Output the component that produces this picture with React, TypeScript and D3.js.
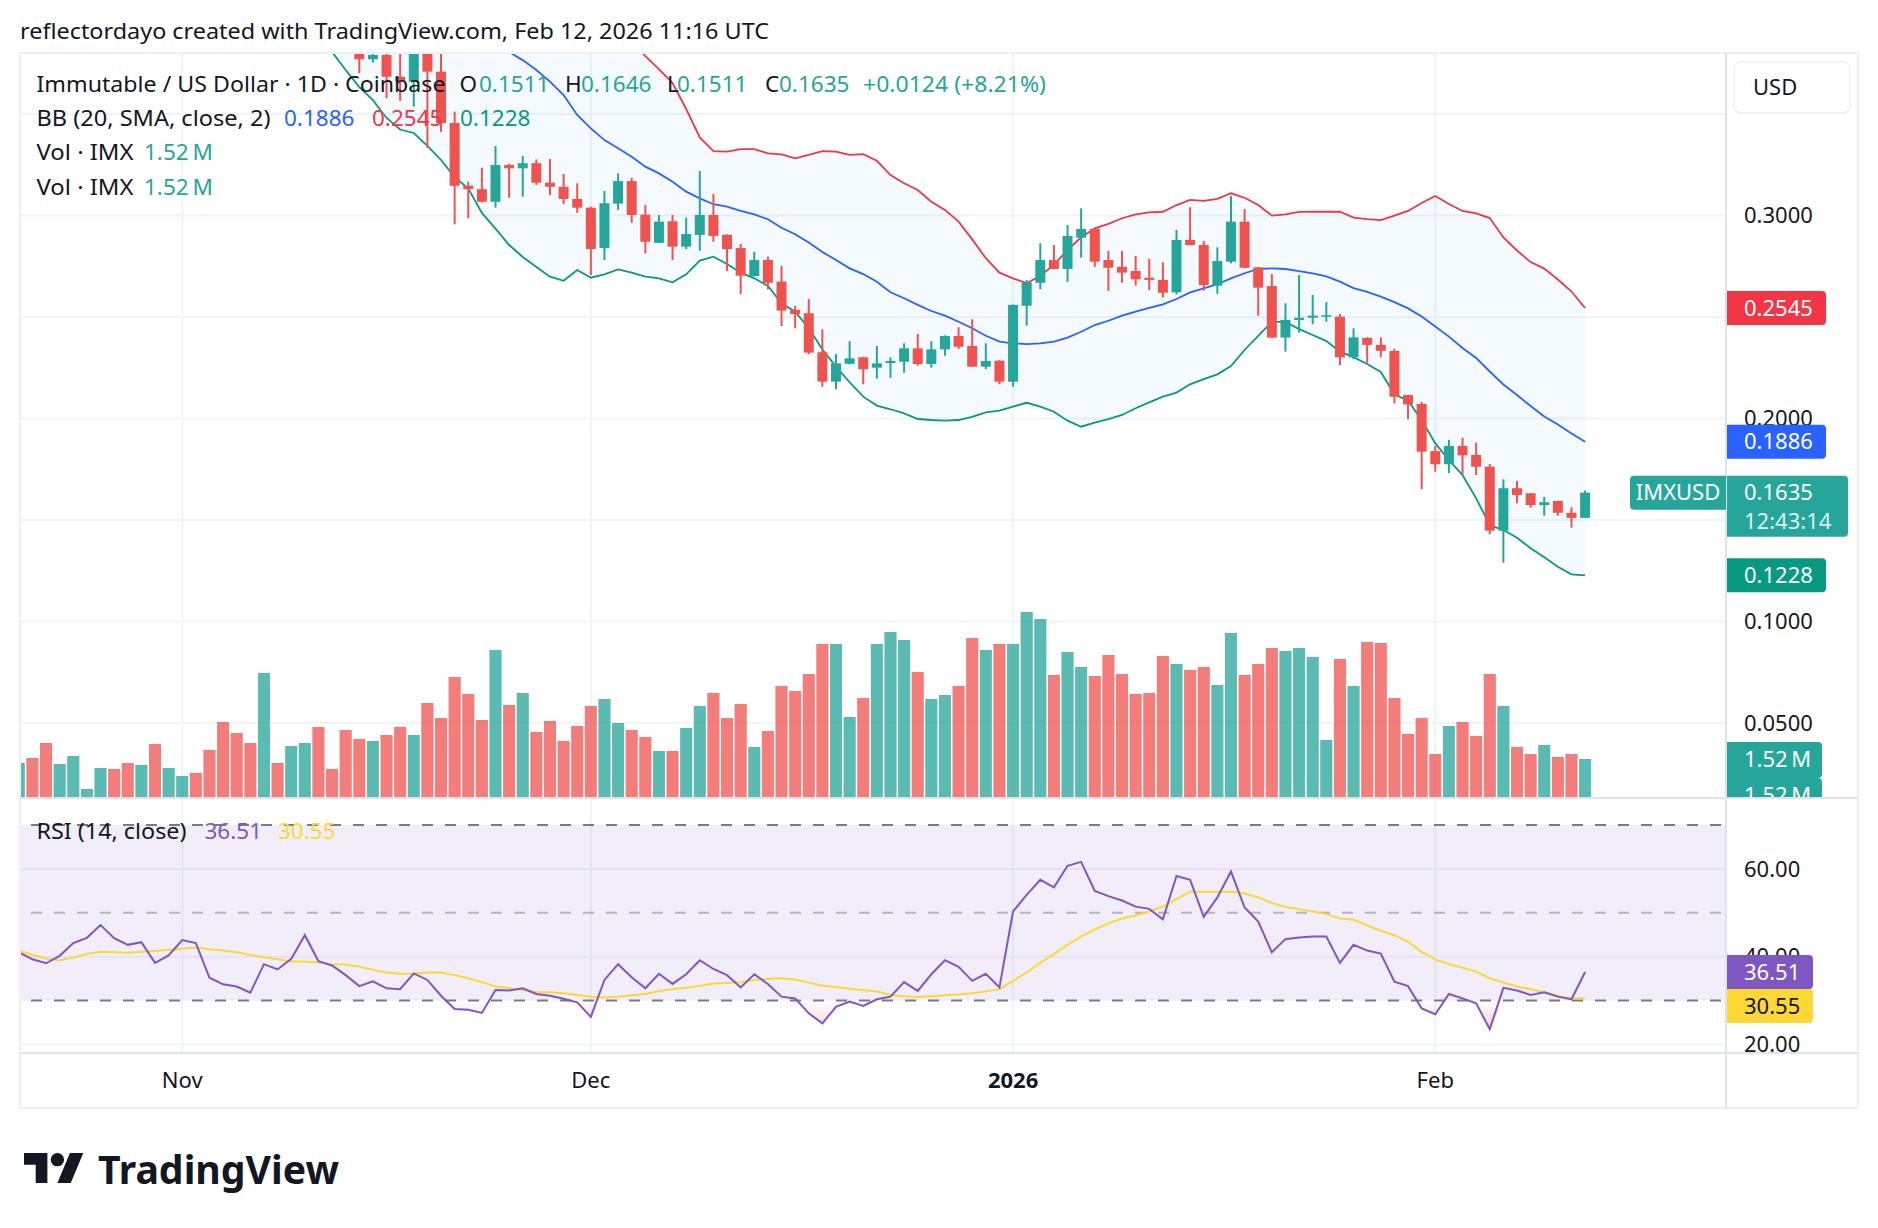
import * as d3 from 'd3';
import { useMemo } from 'react';

// IMX/USD daily, Coinbase — first bar is Oct 20, 2025
const firstDay = Date.UTC(2025, 9, 20);
const DAY = 86400000;

const opens = [
  0.476, 0.486, 0.478, 0.468, 0.474, 0.486, 0.492, 0.508, 0.496, 0.488,
  0.492, 0.470, 0.478, 0.494, 0.490, 0.458, 0.445, 0.438, 0.425, 0.448,
  0.438, 0.447, 0.468, 0.430, 0.415, 0.398, 0.3770, 0.3791, 0.3684, 0.3660,
  0.3860, 0.3709, 0.3456, 0.3147, 0.3130, 0.3068, 0.3249, 0.3233, 0.3258, 0.3162,
  0.3142, 0.3082, 0.3039, 0.2840, 0.3059, 0.3170, 0.3005, 0.2866, 0.2972, 0.2847,
  0.2905, 0.3003, 0.2905, 0.2840, 0.2702, 0.2781, 0.2675, 0.2536, 0.2519, 0.2327,
  0.2182, 0.2270, 0.2302, 0.2251, 0.2274, 0.2280, 0.2346, 0.2269, 0.2341, 0.2407,
  0.2358, 0.2256, 0.2285, 0.2182, 0.2556, 0.2669, 0.2781, 0.2737, 0.2891, 0.2934,
  0.2781, 0.2748, 0.2727, 0.2694, 0.2683, 0.2622, 0.2880, 0.2855, 0.2655, 0.2773,
  0.2970, 0.2745, 0.2653, 0.2399, 0.2486, 0.2497, 0.2507, 0.2502, 0.2302, 0.2398,
  0.2363, 0.2333, 0.2116, 0.2072, 0.1840, 0.1775, 0.1865, 0.1821, 0.1763, 0.1448,
  0.1657, 0.1632, 0.1574, 0.1594, 0.1536, 0.1511,
];
const highs = [
  0.492, 0.495, 0.484, 0.480, 0.490, 0.496, 0.515, 0.512, 0.501, 0.498,
  0.495, 0.482, 0.499, 0.502, 0.492, 0.463, 0.451, 0.442, 0.455, 0.452,
  0.452, 0.476, 0.471, 0.436, 0.420, 0.402, 0.3835, 0.3850, 0.3880, 0.3930,
  0.3900, 0.3840, 0.3512, 0.3167, 0.3236, 0.3343, 0.3256, 0.3294, 0.3277, 0.3279,
  0.3205, 0.3159, 0.3044, 0.3121, 0.3208, 0.3187, 0.3052, 0.3003, 0.3003, 0.2990,
  0.3220, 0.3106, 0.2908, 0.2860, 0.2822, 0.2798, 0.2752, 0.2555, 0.2589, 0.2440,
  0.2318, 0.2382, 0.2305, 0.2358, 0.2302, 0.2371, 0.2417, 0.2382, 0.2410, 0.2450,
  0.2489, 0.2371, 0.2288, 0.2563, 0.2683, 0.2864, 0.2855, 0.2954, 0.3036, 0.2936,
  0.2826, 0.2826, 0.2801, 0.2786, 0.2770, 0.2929, 0.3041, 0.2875, 0.2844, 0.3097,
  0.3033, 0.2747, 0.2712, 0.2568, 0.2707, 0.2609, 0.2574, 0.2515, 0.2445, 0.2400,
  0.2400, 0.2343, 0.2117, 0.2083, 0.1865, 0.1895, 0.1906, 0.1881, 0.1776, 0.1701,
  0.1693, 0.1633, 0.1615, 0.1595, 0.1563, 0.1646,
];
const lows = [
  0.470, 0.474, 0.462, 0.463, 0.470, 0.482, 0.488, 0.492, 0.483, 0.484,
  0.462, 0.466, 0.475, 0.485, 0.452, 0.440, 0.433, 0.418, 0.420, 0.432,
  0.434, 0.443, 0.425, 0.410, 0.392, 0.3702, 0.3753, 0.3578, 0.3565, 0.3537,
  0.3333, 0.3413, 0.2957, 0.2987, 0.3065, 0.3039, 0.3088, 0.3093, 0.3151, 0.3101,
  0.3056, 0.3014, 0.2707, 0.2781, 0.3028, 0.2965, 0.2814, 0.2864, 0.2781, 0.2835,
  0.2827, 0.2871, 0.2727, 0.2614, 0.2700, 0.2637, 0.2456, 0.2445, 0.2317, 0.2157,
  0.2144, 0.2267, 0.2169, 0.2197, 0.2201, 0.2226, 0.2261, 0.2251, 0.2310, 0.2343,
  0.2255, 0.2244, 0.2169, 0.2157, 0.2458, 0.2637, 0.2736, 0.2674, 0.2793, 0.2748,
  0.2629, 0.2669, 0.2655, 0.2633, 0.2596, 0.2612, 0.2853, 0.2630, 0.2614, 0.2765,
  0.2742, 0.2507, 0.2398, 0.2330, 0.2424, 0.2465, 0.2477, 0.2264, 0.2292, 0.2275,
  0.2302, 0.2075, 0.1997, 0.1652, 0.1738, 0.1731, 0.1726, 0.1722, 0.1430, 0.1290,
  0.1583, 0.1561, 0.1522, 0.1522, 0.1463, 0.1511,
];
const closes = [
  0.486, 0.478, 0.468, 0.474, 0.486, 0.492, 0.508, 0.496, 0.488, 0.492,
  0.470, 0.478, 0.494, 0.490, 0.458, 0.445, 0.438, 0.425, 0.448, 0.438,
  0.447, 0.468, 0.430, 0.415, 0.398, 0.3770, 0.3791, 0.3684, 0.3661, 0.3860,
  0.3709, 0.3456, 0.3147, 0.3130, 0.3068, 0.3249, 0.3233, 0.3258, 0.3162, 0.3142,
  0.3082, 0.3039, 0.2835, 0.3061, 0.3170, 0.3003, 0.2871, 0.2970, 0.2847, 0.2909,
  0.3003, 0.2900, 0.2835, 0.2704, 0.2781, 0.2669, 0.2532, 0.2515, 0.2325, 0.2182,
  0.2272, 0.2297, 0.2243, 0.2272, 0.2284, 0.2346, 0.2269, 0.2341, 0.2407, 0.2354,
  0.2256, 0.2284, 0.2182, 0.2560, 0.2671, 0.2781, 0.2737, 0.2900, 0.2934, 0.2773,
  0.2743, 0.2719, 0.2686, 0.2683, 0.2620, 0.2880, 0.2855, 0.2658, 0.2776, 0.2970,
  0.2743, 0.2645, 0.2399, 0.2486, 0.2497, 0.2507, 0.2509, 0.2302, 0.2400, 0.2363,
  0.2334, 0.2108, 0.2070, 0.1837, 0.1775, 0.1865, 0.1819, 0.1763, 0.1448, 0.1657,
  0.1624, 0.1574, 0.1588, 0.1536, 0.1511, 0.1635,
];
// volume in millions of IMX
const volumes = [
  1.36, 1.56, 2.16, 1.32, 1.64, 0.32, 1.16, 1.12, 1.36, 1.28,
  2.12, 1.16, 0.84, 0.96, 1.88, 3.0, 2.56, 2.16, 4.96, 1.36,
  2.04, 2.16, 2.8, 1.12, 2.68, 2.32, 2.24, 2.48, 2.8, 2.48,
  3.76, 3.16, 4.8, 4.12, 3.08, 5.88, 3.68, 4.16, 2.6, 3.04,
  2.24, 2.84, 3.64, 3.92, 2.96, 2.68, 2.4, 1.84, 1.84, 2.76,
  3.64, 4.16, 3.16, 3.72, 2.0, 2.64, 4.44, 4.24, 4.92, 6.12,
  6.12, 3.2, 3.96, 6.12, 6.6, 6.28, 5.0, 3.92, 4.08, 4.44,
  6.36, 5.88, 6.12, 6.12, 7.4, 7.12, 4.88, 5.8, 5.2, 4.84,
  5.68, 4.92, 4.12, 4.16, 5.64, 5.32, 5.08, 5.2, 4.48, 6.56,
  4.88, 5.32, 5.96, 5.84, 5.96, 5.6, 2.28, 5.52, 4.44, 6.2,
  6.16, 3.96, 2.52, 3.16, 1.72, 2.84, 3.0, 2.44, 4.92, 3.64,
  2.0, 1.72, 2.08, 1.6, 1.72, 1.52,
];
const bbUpper = [
  0.597, 0.588, 0.582, 0.573, 0.569, 0.559, 0.551, 0.550, 0.539, 0.533,
  0.530, 0.528, 0.521, 0.519, 0.519, 0.519, 0.520, 0.522, 0.523, 0.525,
  0.527, 0.531, 0.533, 0.531, 0.528, 0.525, 0.521, 0.518, 0.512, 0.501,
  0.496, 0.491, 0.485, 0.479, 0.481, 0.478, 0.4757, 0.4736, 0.4687, 0.4621,
  0.4509, 0.4260, 0.4166, 0.4033, 0.3929, 0.3861, 0.3786, 0.3722, 0.3653, 0.3525,
  0.3385, 0.3318, 0.3315, 0.3327, 0.3327, 0.3307, 0.3302, 0.3282, 0.3299, 0.3318,
  0.3315, 0.3299, 0.3303, 0.3270, 0.3200, 0.3159, 0.3126, 0.3068, 0.3028, 0.2970,
  0.2883, 0.2790, 0.2719, 0.2691, 0.2667, 0.2704, 0.2757, 0.2831, 0.2893, 0.2937,
  0.2959, 0.2987, 0.3006, 0.3016, 0.3019, 0.3052, 0.3077, 0.3073, 0.3082, 0.3110,
  0.3088, 0.3052, 0.3000, 0.3006, 0.3018, 0.3019, 0.3019, 0.3019, 0.2990, 0.2983,
  0.2978, 0.3000, 0.3023, 0.3062, 0.3097, 0.3057, 0.3023, 0.3011, 0.2988, 0.2892,
  0.2828, 0.2771, 0.2739, 0.2685, 0.2626, 0.2545,
];
const bbBasis = [
  0.521, 0.518, 0.514, 0.512, 0.509, 0.506, 0.503, 0.501, 0.498, 0.496,
  0.493, 0.491, 0.489, 0.487, 0.484, 0.480, 0.476, 0.473, 0.470, 0.468,
  0.466, 0.464, 0.461, 0.456, 0.450, 0.444, 0.439, 0.433, 0.427, 0.421,
  0.415, 0.409, 0.402, 0.396, 0.391, 0.386, 0.3806, 0.3766, 0.3717, 0.3660,
  0.3594, 0.3496, 0.3430, 0.3372, 0.3332, 0.3290, 0.3241, 0.3208, 0.3167, 0.3118,
  0.3085, 0.3056, 0.3044, 0.3023, 0.3006, 0.2982, 0.2940, 0.2908, 0.2867, 0.2821,
  0.2781, 0.2740, 0.2712, 0.2674, 0.2622, 0.2593, 0.2560, 0.2530, 0.2507, 0.2477,
  0.2445, 0.2408, 0.2379, 0.2371, 0.2367, 0.2371, 0.2379, 0.2399, 0.2428, 0.2461,
  0.2482, 0.2507, 0.2527, 0.2546, 0.2563, 0.2589, 0.2622, 0.2642, 0.2662, 0.2691,
  0.2716, 0.2737, 0.2740, 0.2737, 0.2727, 0.2715, 0.2701, 0.2675, 0.2643, 0.2624,
  0.2601, 0.2574, 0.2543, 0.2503, 0.2454, 0.2404, 0.2348, 0.2299, 0.2232, 0.2168,
  0.2116, 0.2062, 0.2010, 0.1971, 0.1927, 0.1886,
];
const bbLower = [
  0.445, 0.448, 0.446, 0.451, 0.449, 0.453, 0.455, 0.452, 0.457, 0.459,
  0.456, 0.454, 0.457, 0.455, 0.449, 0.441, 0.432, 0.424, 0.417, 0.411,
  0.405, 0.397, 0.389, 0.3806, 0.3717, 0.3633, 0.3569, 0.3481, 0.3424, 0.3407,
  0.3343, 0.3274, 0.3190, 0.3133, 0.3013, 0.2936, 0.2855, 0.2796, 0.2747, 0.2699,
  0.2679, 0.2732, 0.2694, 0.2711, 0.2735, 0.2719, 0.2699, 0.2691, 0.2671, 0.2711,
  0.2778, 0.2798, 0.2762, 0.2719, 0.2691, 0.2653, 0.2568, 0.2527, 0.2446, 0.2340,
  0.2256, 0.2179, 0.2108, 0.2064, 0.2046, 0.2026, 0.1998, 0.1993, 0.1990, 0.1993,
  0.2009, 0.2031, 0.2039, 0.2059, 0.2078, 0.2059, 0.2034, 0.1990, 0.1960, 0.1980,
  0.1997, 0.2018, 0.2051, 0.2080, 0.2108, 0.2128, 0.2169, 0.2194, 0.2218, 0.2259,
  0.2338, 0.2407, 0.2476, 0.2476, 0.2441, 0.2412, 0.2382, 0.2330, 0.2303, 0.2269,
  0.2230, 0.2120, 0.2088, 0.1993, 0.1878, 0.1796, 0.1722, 0.1607, 0.1476, 0.1451,
  0.1413, 0.1361, 0.1317, 0.1270, 0.1233, 0.1228,
];
const rsi = [
  41.0, 39.4, 38.5, 40.2, 43.1, 44.3, 47.2, 44.2, 42.7, 43.3,
  38.6, 40.3, 43.8, 43.1, 35.2, 33.7, 33.2, 31.8, 38.3, 37.1,
  39.5, 44.9, 39.0, 38.0, 35.8, 33.3, 34.4, 32.8, 32.6, 36.2,
  34.7, 31.1, 28.1, 27.9, 27.2, 32.4, 32.3, 32.8, 31.5, 31.1,
  30.4, 29.6, 26.3, 34.7, 38.3, 35.3, 32.8, 36.1, 33.8, 36.0,
  39.2, 37.2, 35.8, 33.0, 36.0, 33.8, 30.9, 30.5, 27.1, 24.8,
  28.6, 29.8, 28.8, 30.3, 30.9, 34.2, 32.2, 36.0, 39.2, 37.7,
  34.5, 36.1, 33.0, 50.3, 54.1, 57.5, 55.8, 60.7, 61.6, 55.0,
  53.8, 52.8, 51.4, 50.9, 48.5, 58.4, 57.5, 49.1, 53.5, 59.4,
  51.2, 48.0, 41.0, 44.0, 44.4, 44.6, 44.6, 38.6, 42.7, 41.4,
  40.7, 34.3, 33.3, 28.2, 26.9, 31.5, 30.5, 29.4, 23.5, 32.9,
  32.3, 31.3, 31.9, 30.9, 30.3, 36.51,
];
const rsiMa = [
  41.4, 40.4, 39.6, 39.2, 39.8, 40.6, 41.1, 41.0, 40.9, 41.1,
  41.3, 41.5, 41.8, 42.1, 41.7, 41.4, 41.0, 40.4, 39.9, 39.4,
  38.9, 38.9, 38.7, 38.3, 38.2, 37.7, 37.0, 36.4, 36.1, 36.2,
  36.4, 36.4, 35.8, 35.1, 34.2, 33.2, 32.8, 32.4, 31.9, 31.9,
  31.7, 31.3, 30.9, 30.7, 30.9, 31.2, 31.5, 32.2, 32.6, 32.9,
  33.4, 33.9, 34.0, 34.2, 34.7, 34.9, 35.1, 34.8, 34.1, 33.4,
  33.1, 32.7, 32.4, 32.1, 31.3, 31.0, 30.8, 31.0, 31.2, 31.4,
  31.7, 32.1, 32.6, 34.5, 36.4, 38.6, 40.6, 42.7, 44.6, 46.2,
  47.6, 48.7, 49.4, 50.3, 51.4, 53.1, 54.8, 54.8, 54.8, 54.8,
  54.4, 53.5, 52.2, 51.4, 50.8, 50.3, 49.7, 48.7, 48.4, 47.1,
  45.9, 44.9, 43.4, 41.1, 39.4, 38.3, 37.5, 36.6, 35.1, 34.1,
  33.2, 32.6, 31.9, 31.1, 30.5, 30.55,
];

const monthTicks = [
  { date: Date.UTC(2025, 10, 1), label: 'Nov', bold: false },
  { date: Date.UTC(2025, 11, 1), label: 'Dec', bold: false },
  { date: Date.UTC(2026, 0, 1), label: '2026', bold: true },
  { date: Date.UTC(2026, 1, 1), label: 'Feb', bold: false },
];
const priceGrid = [0.35, 0.3, 0.25, 0.2, 0.15, 0.1, 0.05];
// 0.1500 sits entirely under the last-price tag, so it is not printed
const priceTicks = [0.3, 0.25, 0.2, 0.1, 0.05];
const rsiGrid = [60, 40, 20];

const FONT = '"Noto Sans", sans-serif';
const TEXT = '#131722';
const UP = '#26a69a';
const DOWN = '#ef5350';

// pane geometry
const L = 20;
const R = 1726;
const AXIS_R = 1858;
const P_TOP = 53;
const P_BOT = 797;
const RSI_BOT = 1053;
const T_BOT = 1108;

// axis tag with a square left edge and rounded right corners
function tagPath(x0: number, y0: number, w: number, h: number, r = 4) {
  return `M${x0},${y0}H${x0 + w - r}Q${x0 + w},${y0} ${x0 + w},${y0 + r}V${y0 + h - r}Q${x0 + w},${y0 + h} ${x0 + w - r},${y0 + h}H${x0}Z`;
}
function tagPathLeft(x0: number, y0: number, w: number, h: number, r = 4) {
  return `M${x0 + w},${y0}H${x0 + r}Q${x0},${y0} ${x0},${y0 + r}V${y0 + h - r}Q${x0},${y0 + h} ${x0 + r},${y0 + h}H${x0 + w}Z`;
}

export default function App() {
  const n = closes.length;
  const dates = useMemo(() => d3.range(n).map(i => firstDay + i * DAY), [n]);

  const x = d3.scaleUtc().domain([firstDay, firstDay + (n - 1) * DAY]).range([18.8, 1585.1]);
  const y = d3.scaleLinear().domain([0.1, 0.3]).range([621.6, 215.6]);
  const yVol = d3.scaleLinear().domain([0, 1.52]).range([P_BOT, 759]);
  const yRsi = d3.scaleLinear().domain([20, 70]).range([1044.5, 825]);

  const bodyW = 10;
  const volW = 12;

  const bandLine = (vals: number[]) =>
    d3.line<number>().x((_, i) => x(dates[i])).y(v => y(v))(vals) ?? '';
  const bandArea = d3.area<number>()
    .x((_, i) => x(dates[i]))
    .y0((_, i) => y(bbLower[i]))
    .y1((_, i) => y(bbUpper[i]))(closes) ?? '';
  const rsiLine = (vals: number[]) =>
    d3.line<number>().x((_, i) => x(dates[i])).y(v => yRsi(v))(vals) ?? '';
  const oversold = d3.area<number>()
    .x((_, i) => x(dates[i]))
    .y0(yRsi(30))
    .y1(v => yRsi(Math.min(v, 30)))(rsi) ?? '';

  const last = n - 1;
  const o = opens[last], h = highs[last], lo = lows[last], c = closes[last];
  const chg = c - closes[last - 1];
  const pct = (chg / closes[last - 1]) * 100;
  const f4 = d3.format('.4f');
  const fVol = (v: number) => `${v.toFixed(2)}\u2009M`;

  const volBars = (opacity: number, key: string) => (
    <g key={key} opacity={opacity}>
      {volumes.map((v, i) => (
        <rect key={i} x={x(dates[i]) - volW / 2} y={yVol(v)} width={volW} height={P_BOT - yVol(v)}
          fill={closes[i] >= opens[i] ? UP : DOWN} />
      ))}
    </g>
  );

  return (
    <svg width={1878} height={1228} style={{ position: 'absolute', left: 0, top: 0, background: '#fff' }}
      fontFamily={FONT}>
      <defs>
        <clipPath id="pricePane"><rect x={L + 1} y={P_TOP + 1} width={R - L - 1} height={P_BOT - P_TOP - 1} /></clipPath>
        <clipPath id="rsiPane"><rect x={L + 1} y={P_BOT + 1} width={R - L - 1} height={RSI_BOT - P_BOT - 1} /></clipPath>
        <clipPath id="priceAxis"><rect x={R} y={P_TOP} width={AXIS_R - R} height={P_BOT - P_TOP} /></clipPath>
        <linearGradient id="oversoldFill" gradientUnits="userSpaceOnUse" x1={0} x2={0} y1={yRsi(30)} y2={yRsi(0)}>
          <stop offset="0" stopColor="#f23645" stopOpacity={0} />
          <stop offset="1" stopColor="#f23645" stopOpacity={1} />
        </linearGradient>
      </defs>

      <rect width={1878} height={1228} fill="#fff" />

      <text x={20} y={38.5} fontSize={22.5} fill={TEXT} textLength={749} lengthAdjust="spacingAndGlyphs">
        reflectordayo created with TradingView.com, Feb 12, 2026 11:16 UTC
      </text>

      {/* grid */}
      <g stroke="#f0f3fa" strokeWidth={2}>
        {priceGrid.map(p => <line key={p} x1={L} x2={R} y1={y(p)} y2={y(p)} />)}
        {rsiGrid.map(r => <line key={r} x1={L} x2={R} y1={yRsi(r)} y2={yRsi(r)} />)}
        {monthTicks.map(t => <line key={t.label} x1={x(t.date)} x2={x(t.date)} y1={P_TOP} y2={RSI_BOT} />)}
      </g>

      {/* price pane */}
      <g clipPath="url(#pricePane)">
        <path d={bandArea} fill="rgba(33,150,243,0.05)" />
        {volBars(0.5, 'v1')}
        {volBars(0.5, 'v2')}
        <path d={bandLine(bbUpper)} fill="none" stroke="#f23645" strokeWidth={1.8} />
        <path d={bandLine(bbLower)} fill="none" stroke="#089981" strokeWidth={1.8} />
        <path d={bandLine(bbBasis)} fill="none" stroke="#2962ff" strokeWidth={1.8} />
        {closes.map((cl, i) => {
          const up = cl >= opens[i];
          const col = up ? UP : DOWN;
          const cx = x(dates[i]);
          const top = y(Math.max(opens[i], cl));
          const bh = Math.max(1.5, Math.abs(y(opens[i]) - y(cl)));
          return (
            <g key={i}>
              <line x1={cx} x2={cx} y1={y(highs[i])} y2={y(lows[i])} stroke={col} strokeWidth={2} />
              <rect x={cx - bodyW / 2} y={top} width={bodyW} height={bh} fill={col} />
            </g>
          );
        })}
      </g>

      {/* RSI pane */}
      <rect x={L} y={yRsi(70)} width={R - L} height={yRsi(30) - yRsi(70)} fill="rgba(126,87,194,0.1)" />
      <g stroke="#787b86" strokeWidth={2} strokeDasharray="11 12">
        <line x1={L + 11} x2={R} y1={yRsi(70)} y2={yRsi(70)} />
        <line x1={L + 11} x2={R} y1={yRsi(30)} y2={yRsi(30)} />
        <line x1={L + 11} x2={R} y1={yRsi(50)} y2={yRsi(50)} strokeOpacity={0.5} />
      </g>
      <g clipPath="url(#rsiPane)">
        <path d={oversold} fill="url(#oversoldFill)" />
        <path d={rsiLine(rsiMa)} fill="none" stroke="#fdd835" strokeWidth={2} />
        <path d={rsiLine(rsi)} fill="none" stroke="#7e57c2" strokeWidth={2} />
      </g>

      {/* frame and separators */}
      <rect x={L} y={P_TOP} width={AXIS_R - L} height={T_BOT - P_TOP} fill="none" stroke="#eef0f3" strokeWidth={2} />
      <line x1={R} x2={R} y1={P_TOP} y2={T_BOT} stroke="#e0e3eb" strokeWidth={2} />
      <line x1={L} x2={AXIS_R} y1={P_BOT + 1} y2={P_BOT + 1} stroke="#e0e3eb" strokeWidth={2} />
      <line x1={L} x2={AXIS_R} y1={RSI_BOT} y2={RSI_BOT} stroke="#e0e3eb" strokeWidth={2} />

      {/* time axis */}
      {monthTicks.map(t => (
        <text key={t.label} x={x(t.date)} y={1080} dy="0.35em" textAnchor="middle" fontSize={22}
          fontWeight={t.bold ? 700 : 400} fill={TEXT}>{t.label}</text>
      ))}

      {/* price axis */}
      <rect x={1734} y={62} width={116} height={51} rx={7} fill="#fff" stroke="#eceef2" strokeWidth={1.5} />
      <text x={1753} y={87.5} dy="0.35em" fontSize={22} fill={TEXT}>USD</text>
      {priceTicks.map(p => (
        <text key={p} x={1744} y={y(p)} dy="0.35em" fontSize={22} fill={TEXT}>{f4(p)}</text>
      ))}
      <path d={tagPath(1727, y(bbUpper[last]) - 17, 99, 34)} fill="#f23645" />
      <text x={1744} y={y(bbUpper[last])} dy="0.35em" fontSize={22} fill="#fff">{f4(bbUpper[last])}</text>
      <path d={tagPath(1727, y(bbBasis[last]) - 17, 99, 34)} fill="#2962ff" />
      <text x={1744} y={y(bbBasis[last])} dy="0.35em" fontSize={22} fill="#fff">{f4(bbBasis[last])}</text>
      <path d={tagPath(1727, y(c) - 17, 121, 61)} fill={UP} />
      <text x={1744} y={y(c)} dy="0.35em" fontSize={22} fill="#fff">{f4(c)}</text>
      <text x={1744} y={y(c) + 28.5} dy="0.35em" fontSize={22} fill="#fff" fillOpacity={0.85}>12:43:14</text>
      <path d={tagPathLeft(1630, y(c) - 17, 96, 34)} fill={UP} />
      <text x={1678} y={y(c)} dy="0.35em" textAnchor="middle" fontSize={22} fill="#fff">IMXUSD</text>
      <path d={tagPath(1727, y(bbLower[last]) - 17, 99, 34)} fill="#089981" />
      <text x={1744} y={y(bbLower[last])} dy="0.35em" fontSize={22} fill="#fff">{f4(bbLower[last])}</text>
      <g clipPath="url(#priceAxis)">
        <path d={tagPath(1727, yVol(volumes[last]) - 17, 95, 36)} fill={UP} />
        <text x={1744} y={yVol(volumes[last])} dy="0.35em" fontSize={22} fill="#fff">{fVol(volumes[last])}</text>
        <path d={tagPath(1727, yVol(volumes[last]) + 19, 95, 36)} fill={UP} />
        <text x={1744} y={yVol(volumes[last]) + 36} dy="0.35em" fontSize={22} fill="#fff">{fVol(volumes[last])}</text>
      </g>

      {/* RSI axis */}
      {rsiGrid.map(r => (
        <text key={r} x={1744} y={yRsi(r)} dy="0.35em" fontSize={22} fill={TEXT}>{r.toFixed(2)}</text>
      ))}
      <path d={tagPath(1727, yRsi(rsi[last]) - 17, 86, 34)} fill="#7e57c2" />
      <text x={1744} y={yRsi(rsi[last])} dy="0.35em" fontSize={22} fill="#fff">{rsi[last].toFixed(2)}</text>
      <path d={tagPath(1727, yRsi(rsi[last]) + 17, 86, 34)} fill="#fdd835" />
      <text x={1744} y={yRsi(rsi[last]) + 34} dy="0.35em" fontSize={22} fill={TEXT}>{rsiMa[last].toFixed(2)}</text>

      {/* legends */}
      <g fontSize={22.5}>
        <text x={36.5} y={92.3} fill={TEXT} textLength={409} lengthAdjust="spacingAndGlyphs">Immutable / US Dollar · 1D · Coinbase</text>
        <text x={459.6} y={92.3} fill={TEXT}>O</text>
        <text x={479} y={92.3} fill={UP}>{f4(o)}</text>
        <text x={565} y={92.3} fill={TEXT}>H</text>
        <text x={581} y={92.3} fill={UP}>{f4(h)}</text>
        <text x={667} y={92.3} fill={TEXT}>L</text>
        <text x={677} y={92.3} fill={UP}>{f4(lo)}</text>
        <text x={765} y={92.3} fill={TEXT}>C</text>
        <text x={779} y={92.3} fill={UP}>{f4(c)}</text>
        <text x={863} y={92.3} fill={UP} textLength={183} lengthAdjust="spacingAndGlyphs">
          {`${chg >= 0 ? '+' : ''}${f4(chg)} (${pct >= 0 ? '+' : ''}${pct.toFixed(2)}%)`}
        </text>

        <text x={36.5} y={126.3} fill={TEXT} textLength={234} lengthAdjust="spacingAndGlyphs">BB (20, SMA, close, 2)</text>
        <text x={284} y={126.3} fill="#2962ff">{f4(bbBasis[last])}</text>
        <text x={372} y={126.3} fill="#f23645">{f4(bbUpper[last])}</text>
        <text x={460} y={126.3} fill="#089981">{f4(bbLower[last])}</text>

        <text x={36.5} y={160.3} fill={TEXT} textLength={97} lengthAdjust="spacingAndGlyphs">Vol · IMX</text>
        <text x={144} y={160.3} fill={UP}>{fVol(volumes[last])}</text>
        <text x={36.5} y={194.7} fill={TEXT} textLength={97} lengthAdjust="spacingAndGlyphs">Vol · IMX</text>
        <text x={144} y={194.7} fill={UP}>{fVol(volumes[last])}</text>

        <text x={36.5} y={839} fill={TEXT} textLength={150} lengthAdjust="spacingAndGlyphs">RSI (14, close)</text>
        <text x={204.5} y={839} fill="#7e57c2">{rsi[last].toFixed(2)}</text>
        <text x={278} y={839} fill="#fdd835">{rsiMa[last].toFixed(2)}</text>
      </g>

      {/* TradingView wordmark */}
      <g transform="translate(24,1146.3) scale(1.67)" fill={TEXT}>
        <path d="M14 22H7V11H0V4h14v18zM28 22h-8l7.5-18h8L28 22z" />
        <circle cx={20} cy={8} r={4} />
      </g>
      <text x={98} y={1184} fontSize={39} fontWeight={700} fill={TEXT} textLength={241} lengthAdjust="spacingAndGlyphs">TradingView</text>
    </svg>
  );
}
